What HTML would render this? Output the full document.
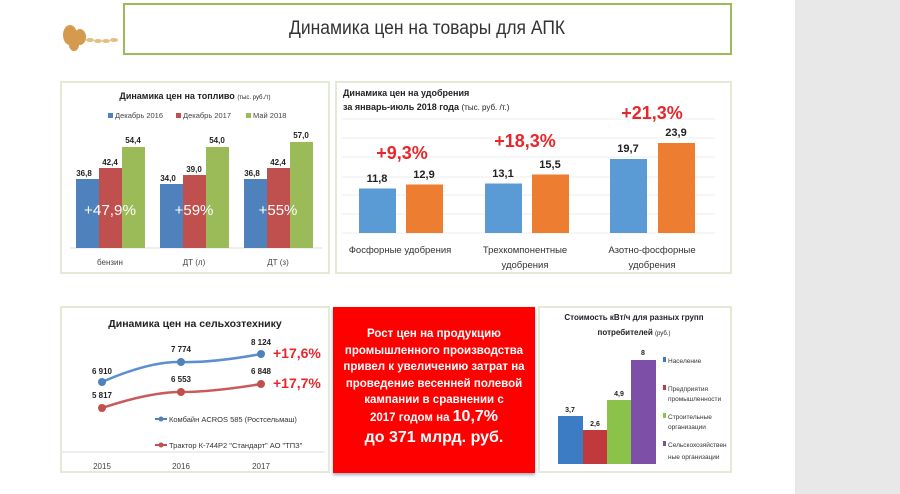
<!DOCTYPE html>
<html><head><meta charset="utf-8"><style>
body{margin:0;width:900px;height:494px;background:#fff;position:relative;overflow:hidden;font-family:"Liberation Sans","Noto Sans CJK SC",sans-serif}
.a{position:absolute}
.box{position:absolute;border:2px solid #e3ead6;box-sizing:border-box;background:#fff}
</style></head><body>
<div class="a" style="left:795px;top:0;width:105px;height:494px;background:#e8e8e8"></div>
<!-- wheat -->
<svg class="a" style="left:60px;top:5px" width="62" height="50">
<g fill="#d49a4e"><ellipse cx="10" cy="30" rx="7" ry="10"/><ellipse cx="20" cy="32" rx="6" ry="8"/><ellipse cx="14" cy="40" rx="5" ry="6"/></g>
<g fill="#e3bd84"><ellipse cx="30" cy="35" rx="4" ry="2"/><ellipse cx="38" cy="36" rx="4" ry="2"/><ellipse cx="46" cy="36" rx="4" ry="2"/><ellipse cx="54" cy="35" rx="4" ry="2"/></g>
</svg>
<div class="a" style="left:123px;top:3px;width:609px;height:52px;border:2px solid #9bbb59;box-sizing:border-box;text-align:center;line-height:48px;font-size:19px;color:#333"><span style="display:inline-block;transform:scaleX(0.92)">Динамика цен на товары для АПК</span></div>

<!-- fuel chart -->
<div class="box" style="left:60px;top:81px;width:270px;height:193px"></div>
<svg class="a" style="left:60px;top:81px" width="270" height="193" font-family="Liberation Sans, sans-serif">
<text x="135" y="18" text-anchor="middle" font-size="9" font-weight="bold" fill="#222">Динамика цен на топливо <tspan font-size="6" font-weight="normal">(тыс. руб./т)</tspan></text>
<rect x="48" y="32" width="5" height="5" fill="#4f81bd"/><text x="55" y="37" font-size="7.5" fill="#444">Декабрь 2016</text>
<rect x="116" y="32" width="5" height="5" fill="#c0504d"/><text x="123" y="37" font-size="7.5" fill="#444">Декабрь 2017</text>
<rect x="186" y="32" width="5" height="5" fill="#9bbb59"/><text x="193" y="37" font-size="7.5" fill="#444">Май 2018</text>
<line x1="10" y1="167" x2="262" y2="167" stroke="#ddd"/>
<g font-size="8" font-weight="bold" fill="#222" text-anchor="middle">
<rect x="16" y="98" width="23" height="69" fill="#4f81bd"/><rect x="39" y="87" width="23" height="80" fill="#c0504d"/><rect x="62" y="66" width="23" height="101" fill="#9bbb59"/>
<text x="24" y="95">36,8</text><text x="50" y="84">42,4</text><text x="73" y="62">54,4</text>
<rect x="100" y="103" width="23" height="64" fill="#4f81bd"/><rect x="123" y="94" width="23" height="73" fill="#c0504d"/><rect x="146" y="66" width="23" height="101" fill="#9bbb59"/>
<text x="108" y="100">34,0</text><text x="134" y="91">39,0</text><text x="157" y="62">54,0</text>
<rect x="184" y="98" width="23" height="69" fill="#4f81bd"/><rect x="207" y="87" width="23" height="80" fill="#c0504d"/><rect x="230" y="61" width="23" height="106" fill="#9bbb59"/>
<text x="192" y="95">36,8</text><text x="218" y="84">42,4</text><text x="241" y="57">57,0</text>
</g>
<g font-size="15" fill="#fff" text-anchor="middle"><text x="50" y="134" textLength="52" lengthAdjust="spacingAndGlyphs">+47,9%</text><text x="134" y="134">+59%</text><text x="218" y="134">+55%</text></g>
<g font-size="8" fill="#444" text-anchor="middle"><text x="50" y="184">бензин</text><text x="134" y="184">ДТ (л)</text><text x="218" y="184">ДТ (з)</text></g>
</svg>

<!-- fertilizer chart -->
<div class="box" style="left:335px;top:81px;width:397px;height:193px"></div>
<svg class="a" style="left:335px;top:81px" width="397" height="193" font-family="Liberation Sans, sans-serif">
<text x="8" y="15" font-size="9" font-weight="bold" fill="#222">Динамика цен на удобрения</text>
<text x="8" y="29" font-size="9" font-weight="bold" fill="#222">за январь-июль 2018 года <tspan font-weight="normal" font-size="8">(тыс. руб. /т.)</tspan></text>
<g stroke="#eee"><line x1="7" y1="38" x2="380" y2="38"/><line x1="7" y1="57" x2="380" y2="57"/><line x1="7" y1="76" x2="380" y2="76"/><line x1="7" y1="96" x2="380" y2="96"/><line x1="7" y1="114" x2="380" y2="114"/><line x1="7" y1="133" x2="380" y2="133"/><line x1="7" y1="152" x2="380" y2="152"/></g>
<rect x="24" y="107.5" width="37" height="44.5" fill="#5b9bd5"/><rect x="71" y="103.5" width="37" height="48.5" fill="#ed7d31"/>
<rect x="150" y="102.5" width="37" height="49.5" fill="#5b9bd5"/><rect x="197" y="93.5" width="37" height="58.5" fill="#ed7d31"/>
<rect x="275" y="78" width="37" height="74" fill="#5b9bd5"/><rect x="323" y="62" width="37" height="90" fill="#ed7d31"/>
<g font-size="11" font-weight="bold" fill="#222" text-anchor="middle">
<text x="42" y="101">11,8</text><text x="89" y="97">12,9</text><text x="168" y="96">13,1</text><text x="215" y="87">15,5</text><text x="293" y="71">19,7</text><text x="341" y="55">23,9</text></g>
<g font-size="18" font-weight="bold" fill="#e8262b" text-anchor="middle"><text x="67" y="78">+9,3%</text><text x="190" y="66">+18,3%</text><text x="317" y="38">+21,3%</text></g>
<g font-size="9.5" fill="#333" text-anchor="middle"><text x="65" y="172">Фосфорные удобрения</text><text x="190" y="172">Трехкомпонентные</text><text x="190" y="187">удобрения</text><text x="317" y="172">Азотно-фосфорные</text><text x="317" y="187">удобрения</text></g>
</svg>

<!-- tech -->
<div class="box" style="left:60px;top:306px;width:270px;height:167px"></div>
<svg class="a" style="left:60px;top:306px" width="270" height="167" font-family="Liberation Sans, sans-serif">
<text x="135" y="21" text-anchor="middle" font-size="10.5" font-weight="bold" fill="#222">Динамика цен на сельхозтехнику</text>
<path d="M42 76 Q90 55 121 56 T201 48" fill="none" stroke="#5b8fd0" stroke-width="2.5"/>
<path d="M42 102 Q90 86 121 86 T201 78" fill="none" stroke="#c85a5a" stroke-width="2.5"/>
<g fill="#4f81bd"><circle cx="42" cy="76" r="4"/><circle cx="121" cy="56" r="4"/><circle cx="201" cy="48" r="4"/></g>
<g fill="#c0504d"><circle cx="42" cy="102" r="4"/><circle cx="121" cy="86" r="4"/><circle cx="201" cy="78" r="4"/></g>
<g font-size="8" font-weight="bold" fill="#222" text-anchor="middle"><text x="42" y="68">6 910</text><text x="121" y="46">7 774</text><text x="201" y="39">8 124</text><text x="42" y="92">5 817</text><text x="121" y="76">6 553</text><text x="201" y="68">6 848</text></g>
<g font-size="14" font-weight="bold" fill="#e8262b"><text x="213" y="52">+17,6%</text><text x="213" y="82">+17,7%</text></g>
<line x1="95" y1="113" x2="107" y2="113" stroke="#4f81bd" stroke-width="2"/><circle cx="101" cy="113" r="2.5" fill="#4f81bd"/>
<text x="109" y="116" font-size="7.5" fill="#333">Комбайн ACROS 585 (Ростсельмаш)</text>
<line x1="95" y1="139" x2="107" y2="139" stroke="#c0504d" stroke-width="2"/><circle cx="101" cy="139" r="2.5" fill="#c0504d"/>
<text x="109" y="142" font-size="7.5" fill="#333">Трактор К-744Р2 "Стандарт" АО "ТПЗ"</text>
<line x1="2" y1="146" x2="265" y2="146" stroke="#ddd"/>
<g font-size="8" fill="#444" text-anchor="middle"><text x="42" y="163">2015</text><text x="121" y="163">2016</text><text x="201" y="163">2017</text></g>
</svg>

<!-- red box -->
<div class="a" style="left:333px;top:307px;width:202px;height:166px;background:#fe0000;box-shadow:0 2px 3px #aab"></div>
<div class="a" style="left:333px;top:326px;width:202px;text-align:center;color:#fff;font-weight:bold;font-size:11.5px;line-height:16.5px">Рост цен на продукцию<br>промышленного производства<br>привел к увеличению затрат на<br>проведение весенней полевой<br>кампании в сравнении с<br>2017 годом на <span style="font-size:16px">10,7%</span><br><span style="font-size:16px;line-height:24px">до 371 млрд. руб.</span></div>

<!-- kwh -->
<div class="box" style="left:538px;top:306px;width:194px;height:167px"></div>
<svg class="a" style="left:538px;top:306px" width="194" height="167" font-family="Liberation Sans, sans-serif">
<text x="96" y="14" text-anchor="middle" font-size="8" font-weight="bold" fill="#222">Стоимость кВт/ч для разных групп</text>
<text x="96" y="29" text-anchor="middle" font-size="8" font-weight="bold" fill="#222">потребителей <tspan font-weight="normal" font-size="6">(руб.)</tspan></text>
<rect x="20" y="110" width="25" height="48" fill="#3c7cc4"/><rect x="45" y="124" width="24" height="34" fill="#c0393b"/><rect x="69" y="94" width="24" height="64" fill="#8bc34a"/><rect x="93" y="54" width="25" height="104" fill="#7e4fa6"/>
<g font-size="7" font-weight="bold" fill="#222" text-anchor="middle"><text x="32" y="106">3,7</text><text x="57" y="120">2,6</text><text x="81" y="90">4,9</text><text x="105" y="49">8</text></g>
<g font-size="6.5" fill="#333">
<rect x="125" y="51" width="3" height="5" fill="#3c7cc4"/><text x="130" y="57">Население</text>
<rect x="125" y="79" width="3" height="5" fill="#c0393b"/><text x="130" y="85">Предприятия</text><text x="130" y="95">промышленности</text>
<rect x="125" y="107" width="3" height="5" fill="#8bc34a"/><text x="130" y="113">Строительные</text><text x="130" y="123">организации</text>
<rect x="125" y="135" width="3" height="5" fill="#7e4fa6"/><text x="130" y="141">Сельскохозяйствен</text><text x="130" y="153">ные организации</text>
</g>
</svg>
</body></html>
